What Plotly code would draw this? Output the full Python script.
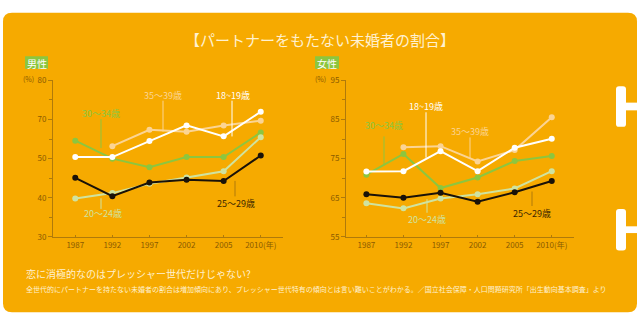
import plotly.graph_objects as go

W, H = 640, 326
years = ["1987", "1992", "1997", "2002", "2005", "2010"]
year_labels = ["1987", "1992", "1997", "2002", "2005", "2010(年)"]
series_names = ["18~19歳", "20〜24歳", "25〜29歳", "30〜34歳", "35〜39歳"]

male_18_19 = [60.4, 60.4, 64.5, 68.5, 65.7, 72.0]
male_20_24 = [49.8, 51.2, 53.6, 55.2, 56.8, 65.5]
male_25_29 = [55.1, 50.4, 53.9, 54.6, 54.3, 60.8]
male_30_34 = [64.6, 60.0, 57.8, 60.4, 60.4, 66.7]
male_35_39 = [None, 63.2, 67.4, 66.9, 68.5, 69.7]

female_18_19 = [71.7, 71.8, 76.9, 71.8, 77.8, 80.1]
female_20_24 = [63.6, 62.3, 64.8, 65.9, 67.4, 71.8]
female_25_29 = [65.9, 65.0, 66.3, 64.0, 66.4, 69.3]
female_30_34 = [70.9, 76.2, 67.5, 70.2, 74.4, 75.7]
female_35_39 = [None, 77.9, 78.2, 74.3, 77.2, 85.6]

male_tickvals = [40, 50, 60, 70, 80]
male_ticktext = ["30", "40", "50", "70", "80"]
female_tickvals = [55, 65, 75, 85, 95]
female_ticktext = ["55", "65", "75", "85", "95"]

ORANGE = "#F6AA00"
AXIS = "#B07A0A"
TICKTXT = "#8A5A00"
CREAM = "#FFF1D0"
colors = {
    "18~19歳": "#FFFFFF",
    "20〜24歳": "#CFE3A0",
    "25〜29歳": "#1A1208",
    "30〜34歳": "#8CC63F",
    "35〜39歳": "#FBD494",
}
FONT = "Noto Sans CJK JP"

def px(x):
    return x / W

def py(y):
    return 1 - y / H

fig = go.Figure()

order = ["35〜39歳", "30〜34歳", "20〜24歳", "25〜29歳", "18~19歳"]
male = {"18~19歳": male_18_19, "20〜24歳": male_20_24, "25〜29歳": male_25_29,
        "30〜34歳": male_30_34, "35〜39歳": male_35_39}
female = {"18~19歳": female_18_19, "20〜24歳": female_20_24, "25〜29歳": female_25_29,
          "30〜34歳": female_30_34, "35〜39歳": female_35_39}

for name in order:
    fig.add_trace(go.Scatter(x=years, y=male[name], mode="lines+markers",
                             line=dict(color=colors[name], width=2),
                             marker=dict(color=colors[name], size=6),
                             xaxis="x", yaxis="y", showlegend=False,
                             connectgaps=False, hoverinfo="skip"))
    fig.add_trace(go.Scatter(x=years, y=female[name], mode="lines+markers",
                             line=dict(color=colors[name], width=2),
                             marker=dict(color=colors[name], size=6),
                             xaxis="x2", yaxis="y2", showlegend=False,
                             connectgaps=False, hoverinfo="skip"))

def xaxis(dom, rng):
    return dict(domain=dom, type="category", range=rng, showgrid=False, zeroline=False,
                showline=True, linecolor=AXIS, linewidth=1, ticks="inside",
                ticklen=2, tickcolor=AXIS,
                tickvals=years, ticktext=year_labels,
                tickfont=dict(family=FONT, size=8, color=TICKTXT), fixedrange=True)

def yaxis(dom, rng, anchor, tv, tt):
    return dict(domain=dom, range=rng, anchor=anchor, showgrid=False, zeroline=False,
                showline=True, linecolor=AXIS, linewidth=1, ticks="outside",
                ticklen=4, tickcolor=AXIS, tickvals=tv, ticktext=tt,
                minor=dict(ticks="outside", ticklen=3, tickcolor=AXIS, dtick=5),
                tickfont=dict(family=FONT, size=8, color=TICKTXT), fixedrange=True)

ydom = [py(239), py(77)]
fig.update_layout(
    width=W, height=H, margin=dict(l=0, r=0, t=0, b=0),
    paper_bgcolor="white", plot_bgcolor="rgba(0,0,0,0)",
    xaxis=dict(xaxis([px(53), px(283)], [-0.6, 5.6]), anchor="y"),
    yaxis=yaxis(ydom, [40, 80], "x", male_tickvals, male_ticktext),
    xaxis2=dict(xaxis([px(346), px(574)], [-0.55, 5.6]), anchor="y2"),
    yaxis2=yaxis(ydom, [55, 95], "x2", female_tickvals, female_ticktext),
)

def rrect(x0, y0, x1, y1, r):
    X0, X1 = px(x0), px(x1)
    Y0, Y1 = py(y0), py(y1)
    rx, ry = r / W, r / H
    return (f"M {X0+rx},{Y0} L {X1-rx},{Y0} Q {X1},{Y0} {X1},{Y0-ry} "
            f"L {X1},{Y1+ry} Q {X1},{Y1} {X1-rx},{Y1} L {X0+rx},{Y1} "
            f"Q {X0},{Y1} {X0},{Y1+ry} L {X0},{Y0-ry} Q {X0},{Y0} {X0+rx},{Y0} Z")

shapes = [dict(type="path", path=rrect(3, 7, 637, 317, 9), xref="paper", yref="paper",
               fillcolor=ORANGE, line=dict(width=0), layer="below")]
for (ya, yb, hb0, hb1) in [(83, 125, 100, 108), (210, 253, 228, 235)]:
    shapes.append(dict(type="path", path=rrect(616, ya, 626, yb, 3), xref="paper", yref="paper",
                       fillcolor="white", line=dict(width=0), layer="above"))
    shapes.append(dict(type="rect", x0=px(622), x1=px(640), y0=py(hb1), y1=py(hb0),
                       xref="paper", yref="paper", fillcolor="white", line=dict(width=0)))
for (x0, x1) in [(25, 48), (315, 339)]:
    shapes.append(dict(type="rect", x0=px(x0), x1=px(x1), y0=py(65), y1=py(52),
                       xref="paper", yref="paper", fillcolor="#8CC63F", line=dict(width=0)))

annotations = []
def label(x, y, text, color, size=9, xanchor="center"):
    annotations.append(dict(x=px(x), y=py(y), xref="paper", yref="paper", text=text,
                            showarrow=False, xanchor=xanchor, yanchor="middle",
                            font=dict(family=FONT, size=size, color=color)))

def leader(x, y0, y1, color):
    shapes.append(dict(type="line", x0=px(x), x1=px(x), y0=py(y0), y1=py(y1),
                       xref="paper", yref="paper", line=dict(color=color, width=1)))

label(101, 111, "30〜34歳", colors["30〜34歳"]); leader(101, 117, 147, colors["30〜34歳"])
label(163, 93, "35〜39歳", colors["35〜39歳"]); leader(163, 98, 130, colors["35〜39歳"])
label(233, 93, "18~19歳", colors["18~19歳"]); leader(232, 98, 135, colors["18~19歳"])
label(103, 215, "20〜24歳", colors["20〜24歳"]); leader(101, 199, 210, colors["20〜24歳"])
label(236, 204, "25〜29歳", "#3A2600"); leader(235, 181, 197, AXIS)
label(384, 124, "30〜34歳", colors["30〜34歳"]); leader(384, 135, 165, colors["30〜34歳"])
label(426, 104, "18~19歳", colors["18~19歳"]); leader(426, 110, 157, colors["18~19歳"])
label(470, 130, "35〜39歳", colors["35〜39歳"]); leader(470, 136, 158, colors["35〜39歳"])
label(427, 221, "20〜24歳", colors["20〜24歳"]); leader(427, 200, 214, colors["20〜24歳"])
label(532, 215, "25〜29歳", "#3A2600"); leader(532, 192, 207, AXIS)

label(320, 35, "【パートナーをもたない未婚者の割合】", CREAM, size=15)
label(36.5, 59, "男性", "white", size=10)
label(327, 59, "女性", "white", size=10)
label(36, 76, "(%)", TICKTXT, size=7, xanchor="right")
label(328, 76, "(%)", TICKTXT, size=7, xanchor="right")

label(24, 277, "恋に消極的なのはプレッシャー世代だけじゃない?", CREAM, size=10, xanchor="left")
label(24, 293, "全世代的にパートナーを持たない未婚者の割合は増加傾向にあり、プレッシャー世代特有の傾向とは言い難いことがわかる。／国立社会保障・人口問題研究所「出生動向基本調査」より",
      CREAM, size=7, xanchor="left")

fig.update_layout(shapes=shapes, annotations=annotations)
fig.write_html("out.html", config={"displayModeBar": False})
